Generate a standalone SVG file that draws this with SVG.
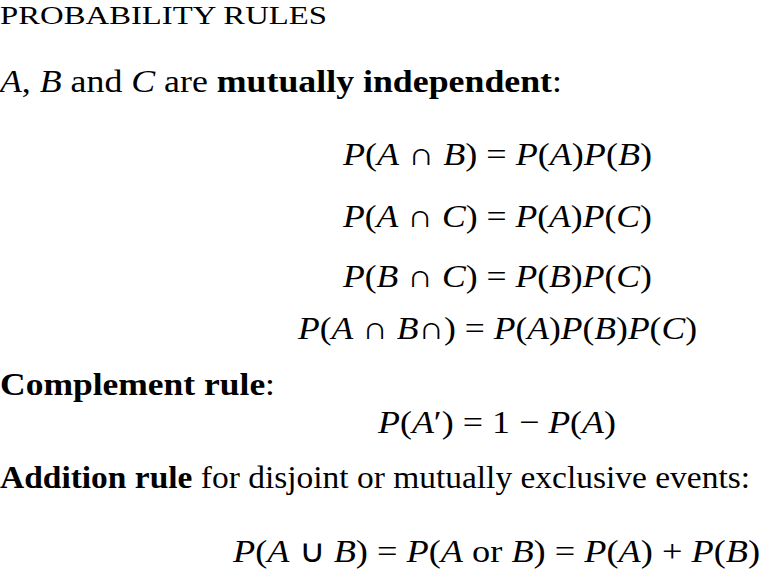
<svg xmlns="http://www.w3.org/2000/svg" width="760" height="572" viewBox="0 0 760 572">
<style>
.i{font-style:italic}
.b{font-weight:bold}
</style>
<rect width="760" height="572" fill="#fff"/>
<g font-family="'Liberation Serif', serif" font-size="32" fill="#000">
<g id="title"><text x="0" y="24" font-size="25" textLength="327" lengthAdjust="spacingAndGlyphs">PROBABILITY RULES</text></g>
<g id="independent">
<text x="0" y="92" textLength="562" lengthAdjust="spacingAndGlyphs"><tspan class="i">A</tspan>, <tspan class="i">B</tspan> and <tspan class="i">C</tspan> are <tspan class="b">mutually independent</tspan>:</text>
<text x="343" y="165" textLength="309" lengthAdjust="spacingAndGlyphs"><tspan class="i">P</tspan>(<tspan class="i">A</tspan> ∩ <tspan class="i">B</tspan>) = <tspan class="i">P</tspan>(<tspan class="i">A</tspan>)<tspan class="i">P</tspan>(<tspan class="i">B</tspan>)</text>
<text x="343" y="227" textLength="309" lengthAdjust="spacingAndGlyphs"><tspan class="i">P</tspan>(<tspan class="i">A</tspan> ∩ <tspan class="i">C</tspan>) = <tspan class="i">P</tspan>(<tspan class="i">A</tspan>)<tspan class="i">P</tspan>(<tspan class="i">C</tspan>)</text>
<text x="343" y="287" textLength="309" lengthAdjust="spacingAndGlyphs"><tspan class="i">P</tspan>(<tspan class="i">B</tspan> ∩ <tspan class="i">C</tspan>) = <tspan class="i">P</tspan>(<tspan class="i">B</tspan>)<tspan class="i">P</tspan>(<tspan class="i">C</tspan>)</text>
<text x="298" y="339" textLength="399" lengthAdjust="spacingAndGlyphs"><tspan class="i">P</tspan>(<tspan class="i">A</tspan> ∩ <tspan class="i">B</tspan>∩) = <tspan class="i">P</tspan>(<tspan class="i">A</tspan>)<tspan class="i">P</tspan>(<tspan class="i">B</tspan>)<tspan class="i">P</tspan>(<tspan class="i">C</tspan>)</text>
</g>
<g id="complement">
<text x="0" y="395" textLength="275" lengthAdjust="spacingAndGlyphs"><tspan class="b">Complement rule</tspan>:</text>
<text x="378" y="433" textLength="238" lengthAdjust="spacingAndGlyphs"><tspan class="i">P</tspan>(<tspan class="i">A</tspan>′) = 1 − <tspan class="i">P</tspan>(<tspan class="i">A</tspan>)</text>
</g>
<g id="addition">
<text x="0" y="488" textLength="750" lengthAdjust="spacingAndGlyphs"><tspan class="b">Addition rule</tspan> for disjoint or mutually exclusive events:</text>
<text x="233" y="562" textLength="527" lengthAdjust="spacingAndGlyphs"><tspan class="i">P</tspan>(<tspan class="i">A</tspan> ∪ <tspan class="i">B</tspan>) = <tspan class="i">P</tspan>(<tspan class="i">A</tspan> or <tspan class="i">B</tspan>) = <tspan class="i">P</tspan>(<tspan class="i">A</tspan>) + <tspan class="i">P</tspan>(<tspan class="i">B</tspan>)</text>
</g>
</g>
</svg>
